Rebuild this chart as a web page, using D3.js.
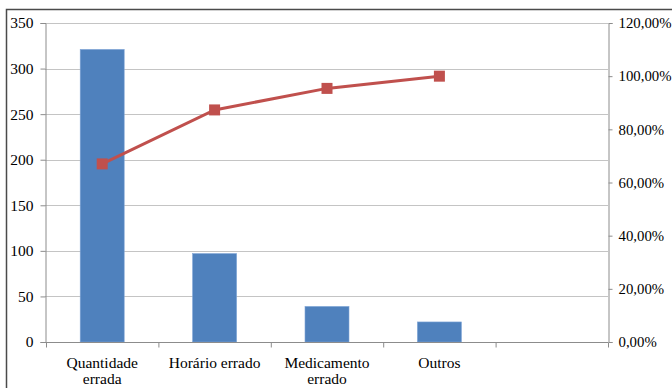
<!DOCTYPE html>
<html>
<head>
<meta charset="utf-8">
<script src="https://cdn.jsdelivr.net/npm/d3@7"></script>
<style>
  html, body { margin: 0; padding: 0; background: #fff; }
  svg { display: block; }
</style>
</head>
<body>
<svg id="chart" width="672" height="388"></svg>
<script>
// Pareto of medication error types
const categories = ["Quantidade errada", "Horário errado", "Medicamento errado", "Outros", ""];
const counts = [321, 97, 39, 22];
const cumulativePct = [67.0, 87.3, 95.4, 100.0];
const leftTicks = [0, 50, 100, 150, 200, 250, 300, 350];
const rightTicks = [0, 20, 40, 60, 80, 100, 120];
// wrapped category labels
const labelLines = [["Quantidade", "errada"], ["Horário errado"], ["Medicamento", "errado"], ["Outros"], []];

const serif = "'Liberation Serif', 'Times New Roman', 'DejaVu Serif', serif";
const fontSize = "15.5px";
const svg = d3.select("#chart").style("font-family", serif);
const plotL = 45, plotR = 608, plotT = 23, plotB = 342;

// outer frame
svg.append("rect")
  .attr("x", 6.5).attr("y", 9.5)
  .attr("width", 700).attr("height", 400)
  .attr("fill", "none").attr("stroke", "#4a4a4a").attr("stroke-width", 1.5);

const x = d3.scaleBand().domain(d3.range(categories.length)).range([plotL + 1, plotR]).paddingInner(0).paddingOuter(0);
const y = d3.scaleLinear().domain([0, 350]).range([plotB, plotT]);
const y2 = d3.scaleLinear().domain([0, 120]).range([plotB, plotT]);

// gridlines
svg.append("g").selectAll("line").data(leftTicks.filter(d => d > 0)).join("line")
  .attr("x1", plotL).attr("x2", plotR)
  .attr("y1", d => Math.round(y(d)) + 0.5).attr("y2", d => Math.round(y(d)) + 0.5)
  .attr("stroke", "#c4c4c4").attr("stroke-width", 1);

// bars
const barW = 44;
svg.append("g").selectAll("rect").data(counts).join("rect")
  .attr("x", (d, i) => x(i) + x.bandwidth() / 2 - barW / 2)
  .attr("width", barW)
  .attr("y", d => y(d))
  .attr("height", d => plotB - y(d))
  .attr("fill", "#4f81bd")
  .attr("stroke", "#7fa4d6").attr("stroke-width", 0.6);

// left axis
const gL = svg.append("g").attr("transform", `translate(${plotL + 0.5},0)`)
  .call(d3.axisLeft(y).tickValues(leftTicks).tickSize(5).tickPadding(7).tickFormat(d3.format("d")));
// right axis
const gR = svg.append("g").attr("transform", `translate(${plotR + 0.5},0)`)
  .call(d3.axisRight(y2).tickValues(rightTicks).tickSize(4).tickPadding(6)
    .tickFormat(d => d.toFixed(2).replace(".", ",") + "%"));
// bottom axis with ticks at category boundaries
const gB = svg.append("g").attr("transform", `translate(0,${plotB + 0.5})`);
gB.append("line").attr("x1", plotL).attr("x2", plotR).attr("stroke", "#8c8c8c");
gB.selectAll("line.tk").data(d3.range(categories.length + 1)).join("line").attr("class", "tk")
  .attr("x1", i => (i < categories.length ? x(i) : plotR) + 0.5)
  .attr("x2", i => (i < categories.length ? x(i) : plotR) + 0.5)
  .attr("y1", 0).attr("y2", 5).attr("stroke", "#8c8c8c");

[gL, gR].forEach(g => {
  g.attr("font-family", null).attr("font-size", null);
  g.select(".domain").attr("stroke", "#8c8c8c");
  g.selectAll(".tick line").attr("stroke", "#8c8c8c");
  g.selectAll(".tick text").style("font-family", serif).style("font-size", fontSize).attr("fill", "#000");
});
gR.selectAll(".tick text").style("font-size", "14.8px");

// category labels
const lab = svg.append("g");
labelLines.forEach((lines, i) => {
  lines.forEach((t, j) => {
    lab.append("text")
      .attr("x", x(i) + x.bandwidth() / 2)
      .attr("y", 367.5 + j * 16.5)
      .attr("text-anchor", "middle")
      .style("font-family", serif)
      .style("font-size", fontSize)
      .attr("fill", "#000")
      .text(t);
  });
});

// cumulative line
const cx = (d, i) => x(i) + x.bandwidth() / 2;
svg.append("path").datum(cumulativePct)
  .attr("d", d3.line().x(cx).y(d => y2(d)))
  .attr("fill", "none").attr("stroke", "#c0504d").attr("stroke-width", 3);
const ms = 11;
svg.append("g").selectAll("rect").data(cumulativePct).join("rect")
  .attr("x", (d, i) => cx(d, i) - ms / 2)
  .attr("y", d => y2(d) - ms / 2)
  .attr("width", ms).attr("height", ms)
  .attr("fill", "#c0504d");
</script>
</body>
</html>
